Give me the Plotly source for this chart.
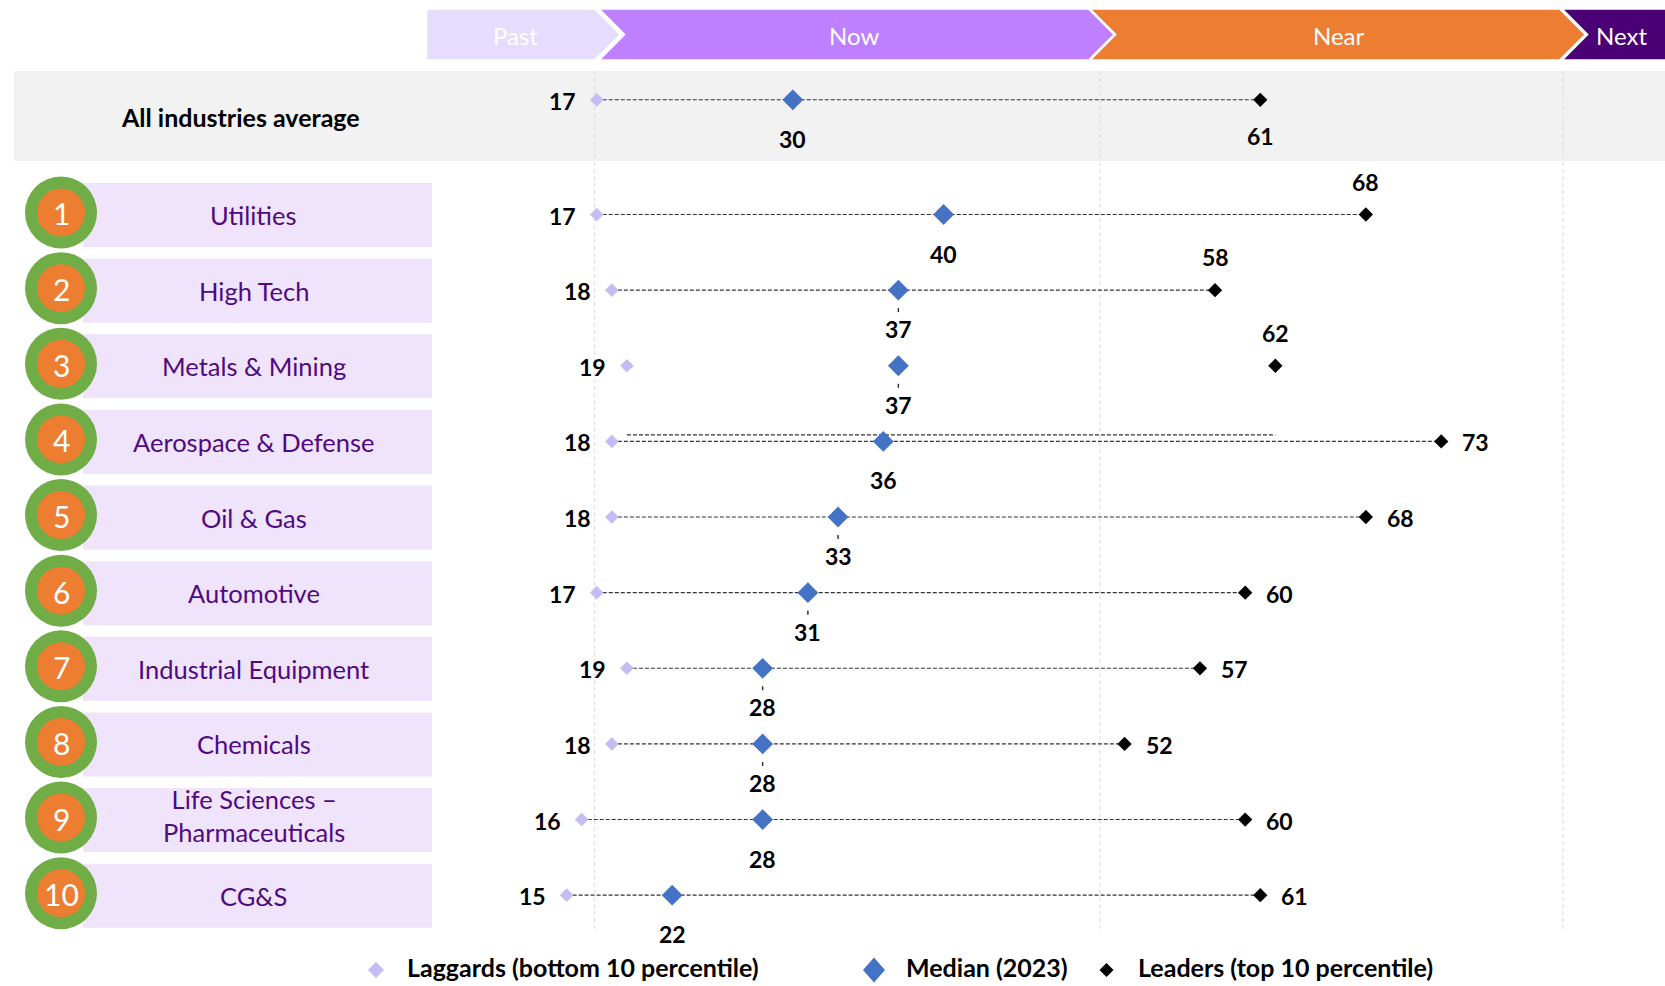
import plotly.graph_objects as go

# ---------------- data ----------------
industries = [
    "Utilities", "High Tech", "Metals & Mining", "Aerospace & Defense", "Oil & Gas",
    "Automotive", "Industrial Equipment", "Chemicals",
    "Life Sciences –<br>Pharmaceuticals", "CG&S",
]
ranks = [1, 2, 3, 4, 5, 6, 7, 8, 9, 10]
laggards = [17, 18, 19, 18, 18, 17, 19, 18, 16, 15]
medians = [40, 37, 37, 36, 33, 31, 28, 28, 28, 22]
leaders = [68, 58, 62, 73, 68, 60, 57, 52, 60, 61]

avg_name = "All industries average"
avg_laggard = 17
avg_median = 30
avg_leader = 61

phases = ["Past", "Now", "Near", "Next"]
legend_names = ["Laggards (bottom 10 percentile)", "Median (2023)", "Leaders (top 10 percentile)"]

# ---------------- geometry / styling ----------------
W, H = 1665, 986
X0_PX, X_UNIT = 340.4, 15.08          # pixel of value 0, pixels per unit
ROW1_PX, ROW_PX = 214.5, 75.63        # pixel of first industry row, row pitch
AVG_PX = 99.8

x_range = [-X0_PX / X_UNIT, (W - X0_PX) / X_UNIT]
y_range = [1 + (H - ROW1_PX) / ROW_PX, 1 - ROW1_PX / ROW_PX]
avg_y = 1 + (AVG_PX - ROW1_PX) / ROW_PX
rows = [i + 1 for i in range(len(industries))]

FONT = "Lato, 'Open Sans', sans-serif"
C_LAG = "#C6BCF4"
C_MED = "#4472C4"
C_LEAD = "#000000"
C_LINE = "#333333"
C_TEXT_CAT = "#4F0A80"
C_BOX = "#F0E3FC"
C_GREEN = "#70AD47"
C_ORANGE = "#ED7D31"

# where each leader value label sits relative to its marker
leader_side = {"Utilities": "above", "High Tech": "above", "Metals & Mining": "above"}
# rows whose median label carries a small leader tick
median_tick = {"High Tech", "Metals & Mining", "Oil & Gas", "Automotive",
               "Industrial Equipment", "Chemicals"}


def px(x):
    return x / W


def py(y):
    return 1 - y / H


shapes = []
annotations = []

# grey band behind the all-industries row
shapes.append(dict(type="rect", xref="paper", yref="paper", layer="below",
                   x0=px(14), x1=px(W), y0=py(161), y1=py(71),
                   fillcolor="#F2F2F2", line=dict(width=0)))

# light dashed guide lines aligned with the phase boundaries
for gx in [594.7, 1100, 1563]:
    shapes.append(dict(type="line", xref="paper", yref="paper", layer="below",
                       x0=px(gx), x1=px(gx), y0=py(71), y1=py(930),
                       line=dict(color="#D9D9D9", width=1, dash="4px,3px")))

# phase chevrons across the top
top, mid, bot = 8.5, 34.5, 60.5
chev = [
    ("Past", "#E6DCFE", [(426, top), (595, top), (621, mid), (595, bot), (426, bot)], 515),
    ("Now", "#BF80FF", [(598, top), (1089, top), (1115, mid), (1089, bot), (598, bot), (624, mid)], 854),
    ("Near", "#ED7D31", [(1089, top), (1560, top), (1586, mid), (1560, bot), (1089, bot), (1115, mid)], 1339),
    ("Next", "#4B0075", [(1561, top), (1668, top), (1668, bot), (1561, bot), (1587, mid)], 1621),
]
for name, color, pts, tx in chev:
    path = "M " + " L ".join(f"{px(a):.5f},{py(b):.5f}" for a, b in pts) + " Z"
    shapes.append(dict(type="path", xref="paper", yref="paper", path=path,
                       fillcolor=color, line=dict(color="white", width=2.5), layer="below"))
    annotations.append(dict(xref="paper", yref="paper", x=px(tx), y=py(mid + 1),
                            text=name, showarrow=False, xanchor="center", yanchor="middle",
                            font=dict(family=FONT, size=24, color="white")))

# all-industries caption
annotations.append(dict(xref="paper", yref="paper", x=px(240), y=py(117),
                        text=f"<b>{avg_name}</b>", showarrow=False,
                        xanchor="center", yanchor="middle",
                        font=dict(family=FONT, size=25, color="black")))

# industry labels with rank badges
for r, name, y in zip(ranks, industries, rows):
    cy = ROW1_PX + (y - 1) * ROW_PX
    shapes.append(dict(type="rect", xref="paper", yref="paper", layer="below",
                       x0=px(83), x1=px(432), y0=py(cy + 32.5), y1=py(cy - 31.5),
                       fillcolor=C_BOX, line=dict(width=0)))
    shapes.append(dict(type="circle", xref="paper", yref="paper", layer="below",
                       x0=px(61 - 36), x1=px(61 + 36), y0=py(cy + 34), y1=py(cy - 38),
                       fillcolor=C_GREEN, line=dict(width=0)))
    shapes.append(dict(type="circle", xref="paper", yref="paper", layer="below",
                       x0=px(61 - 24), x1=px(61 + 24), y0=py(cy + 22), y1=py(cy - 26),
                       fillcolor=C_ORANGE, line=dict(width=0)))
    annotations.append(dict(xref="paper", yref="paper", x=px(61), y=py(cy - 1),
                            text=str(r), showarrow=False, xanchor="center", yanchor="middle",
                            font=dict(family=FONT, size=30, color="white")))
    text_dy = -4.5 if "<br>" in name else 0.5
    annotations.append(dict(xref="paper", yref="paper", x=px(254), y=py(cy + text_dy),
                            text=name, showarrow=False, xanchor="center", yanchor="middle",
                            font=dict(family=FONT, size=25.5, color=C_TEXT_CAT)))

# ---------------- traces ----------------
all_y = [avg_y] + rows
all_lag = [avg_laggard] + laggards
all_med = [avg_median] + medians
all_lead = [avg_leader] + leaders
all_names = [avg_name] + industries

# connector rows: the Metals & Mining connector rests just above the Aerospace row
conn_y = dict(zip(all_names, all_y))
conn_y["Metals & Mining"] = rows[3] - 6.5 / ROW_PX

cx, cy_ = [], []
for n, lo, hi in zip(all_names, all_lag, all_lead):
    cx += [lo, hi, None]
    cy_ += [conn_y[n], conn_y[n], None]

fig = go.Figure()
fig.add_trace(go.Scatter(x=cx, y=cy_, mode="lines", hoverinfo="skip", showlegend=False,
                         line=dict(color=C_LINE, width=1.1, dash="4px,2px")))
fig.add_trace(go.Scatter(x=all_lag, y=all_y, mode="markers", name=legend_names[0], showlegend=False,
                         marker=dict(symbol="diamond", size=10.5, color=C_LAG, line=dict(width=0))))
fig.add_trace(go.Scatter(x=all_lead, y=all_y, mode="markers", name=legend_names[2], showlegend=False,
                         marker=dict(symbol="diamond", size=11, color=C_LEAD, line=dict(width=0))))
fig.add_trace(go.Scatter(x=all_med, y=all_y, mode="markers", name=legend_names[1], showlegend=False,
                         marker=dict(symbol="diamond", size=16, color=C_MED, line=dict(width=0))))

# value labels
lab_font = dict(family=FONT, size=23, color="black")
for n, y, lo, md, hi in zip(all_names, all_y, all_lag, all_med, all_lead):
    annotations.append(dict(x=lo, y=y, text=f"<b>{lo}</b>", showarrow=False,
                            xanchor="right", yanchor="middle", xshift=-19, yshift=-1, font=lab_font))
    annotations.append(dict(x=md, y=y, text=f"<b>{md}</b>", showarrow=False,
                            xanchor="center", yanchor="middle", yshift=-39, font=lab_font))
    if n == avg_name:
        annotations.append(dict(x=hi, y=y, text=f"<b>{hi}</b>", showarrow=False,
                                xanchor="center", yanchor="middle", yshift=-36, font=lab_font))
    elif leader_side.get(n) == "above":
        annotations.append(dict(x=hi, y=y, text=f"<b>{hi}</b>", showarrow=False,
                                xanchor="center", yanchor="middle", yshift=33, font=lab_font))
    else:
        annotations.append(dict(x=hi, y=y, text=f"<b>{hi}</b>", showarrow=False,
                                xanchor="left", yanchor="middle", xshift=19, yshift=-1, font=lab_font))
    if n in median_tick:
        shapes.append(dict(type="line", xref="x", yref="y", x0=md, x1=md,
                           y0=y + 18 / ROW_PX, y1=y + 22 / ROW_PX,
                           line=dict(color="#333333", width=1.5)))


# legend row along the bottom
def diamond(cx0, cy0, w, h, color):
    pts = [(cx0, cy0 - h / 2), (cx0 + w / 2, cy0), (cx0, cy0 + h / 2), (cx0 - w / 2, cy0)]
    path = "M " + " L ".join(f"{px(a):.5f},{py(b):.5f}" for a, b in pts) + " Z"
    return dict(type="path", xref="paper", yref="paper", path=path,
                fillcolor=color, line=dict(width=0))


leg_y = 969
leg_font = dict(family=FONT, size=25, color="black")
for (mx, w, h, color), tx, name in zip(
        [(376, 16, 16, C_LAG), (874, 22, 25, C_MED), (1106.5, 14, 14, C_LEAD)],
        [405, 904, 1136], legend_names):
    shapes.append(diamond(mx, leg_y + 1, w, h, color))
    annotations.append(dict(xref="paper", yref="paper", x=px(tx), y=py(leg_y - 2),
                            text=f"<b>{name}</b>", showarrow=False,
                            xanchor="left", yanchor="middle", font=leg_font))

fig.update_layout(
    width=W, height=H, autosize=False,
    margin=dict(l=0, r=0, t=0, b=0, pad=0),
    paper_bgcolor="white", plot_bgcolor="rgba(0,0,0,0)",
    xaxis=dict(range=x_range, visible=False, fixedrange=True),
    yaxis=dict(range=y_range, visible=False, fixedrange=True),
    shapes=shapes, annotations=annotations,
    hovermode=False, showlegend=False,
)

fig.write_html("out.html", config={"displayModeBar": False})
